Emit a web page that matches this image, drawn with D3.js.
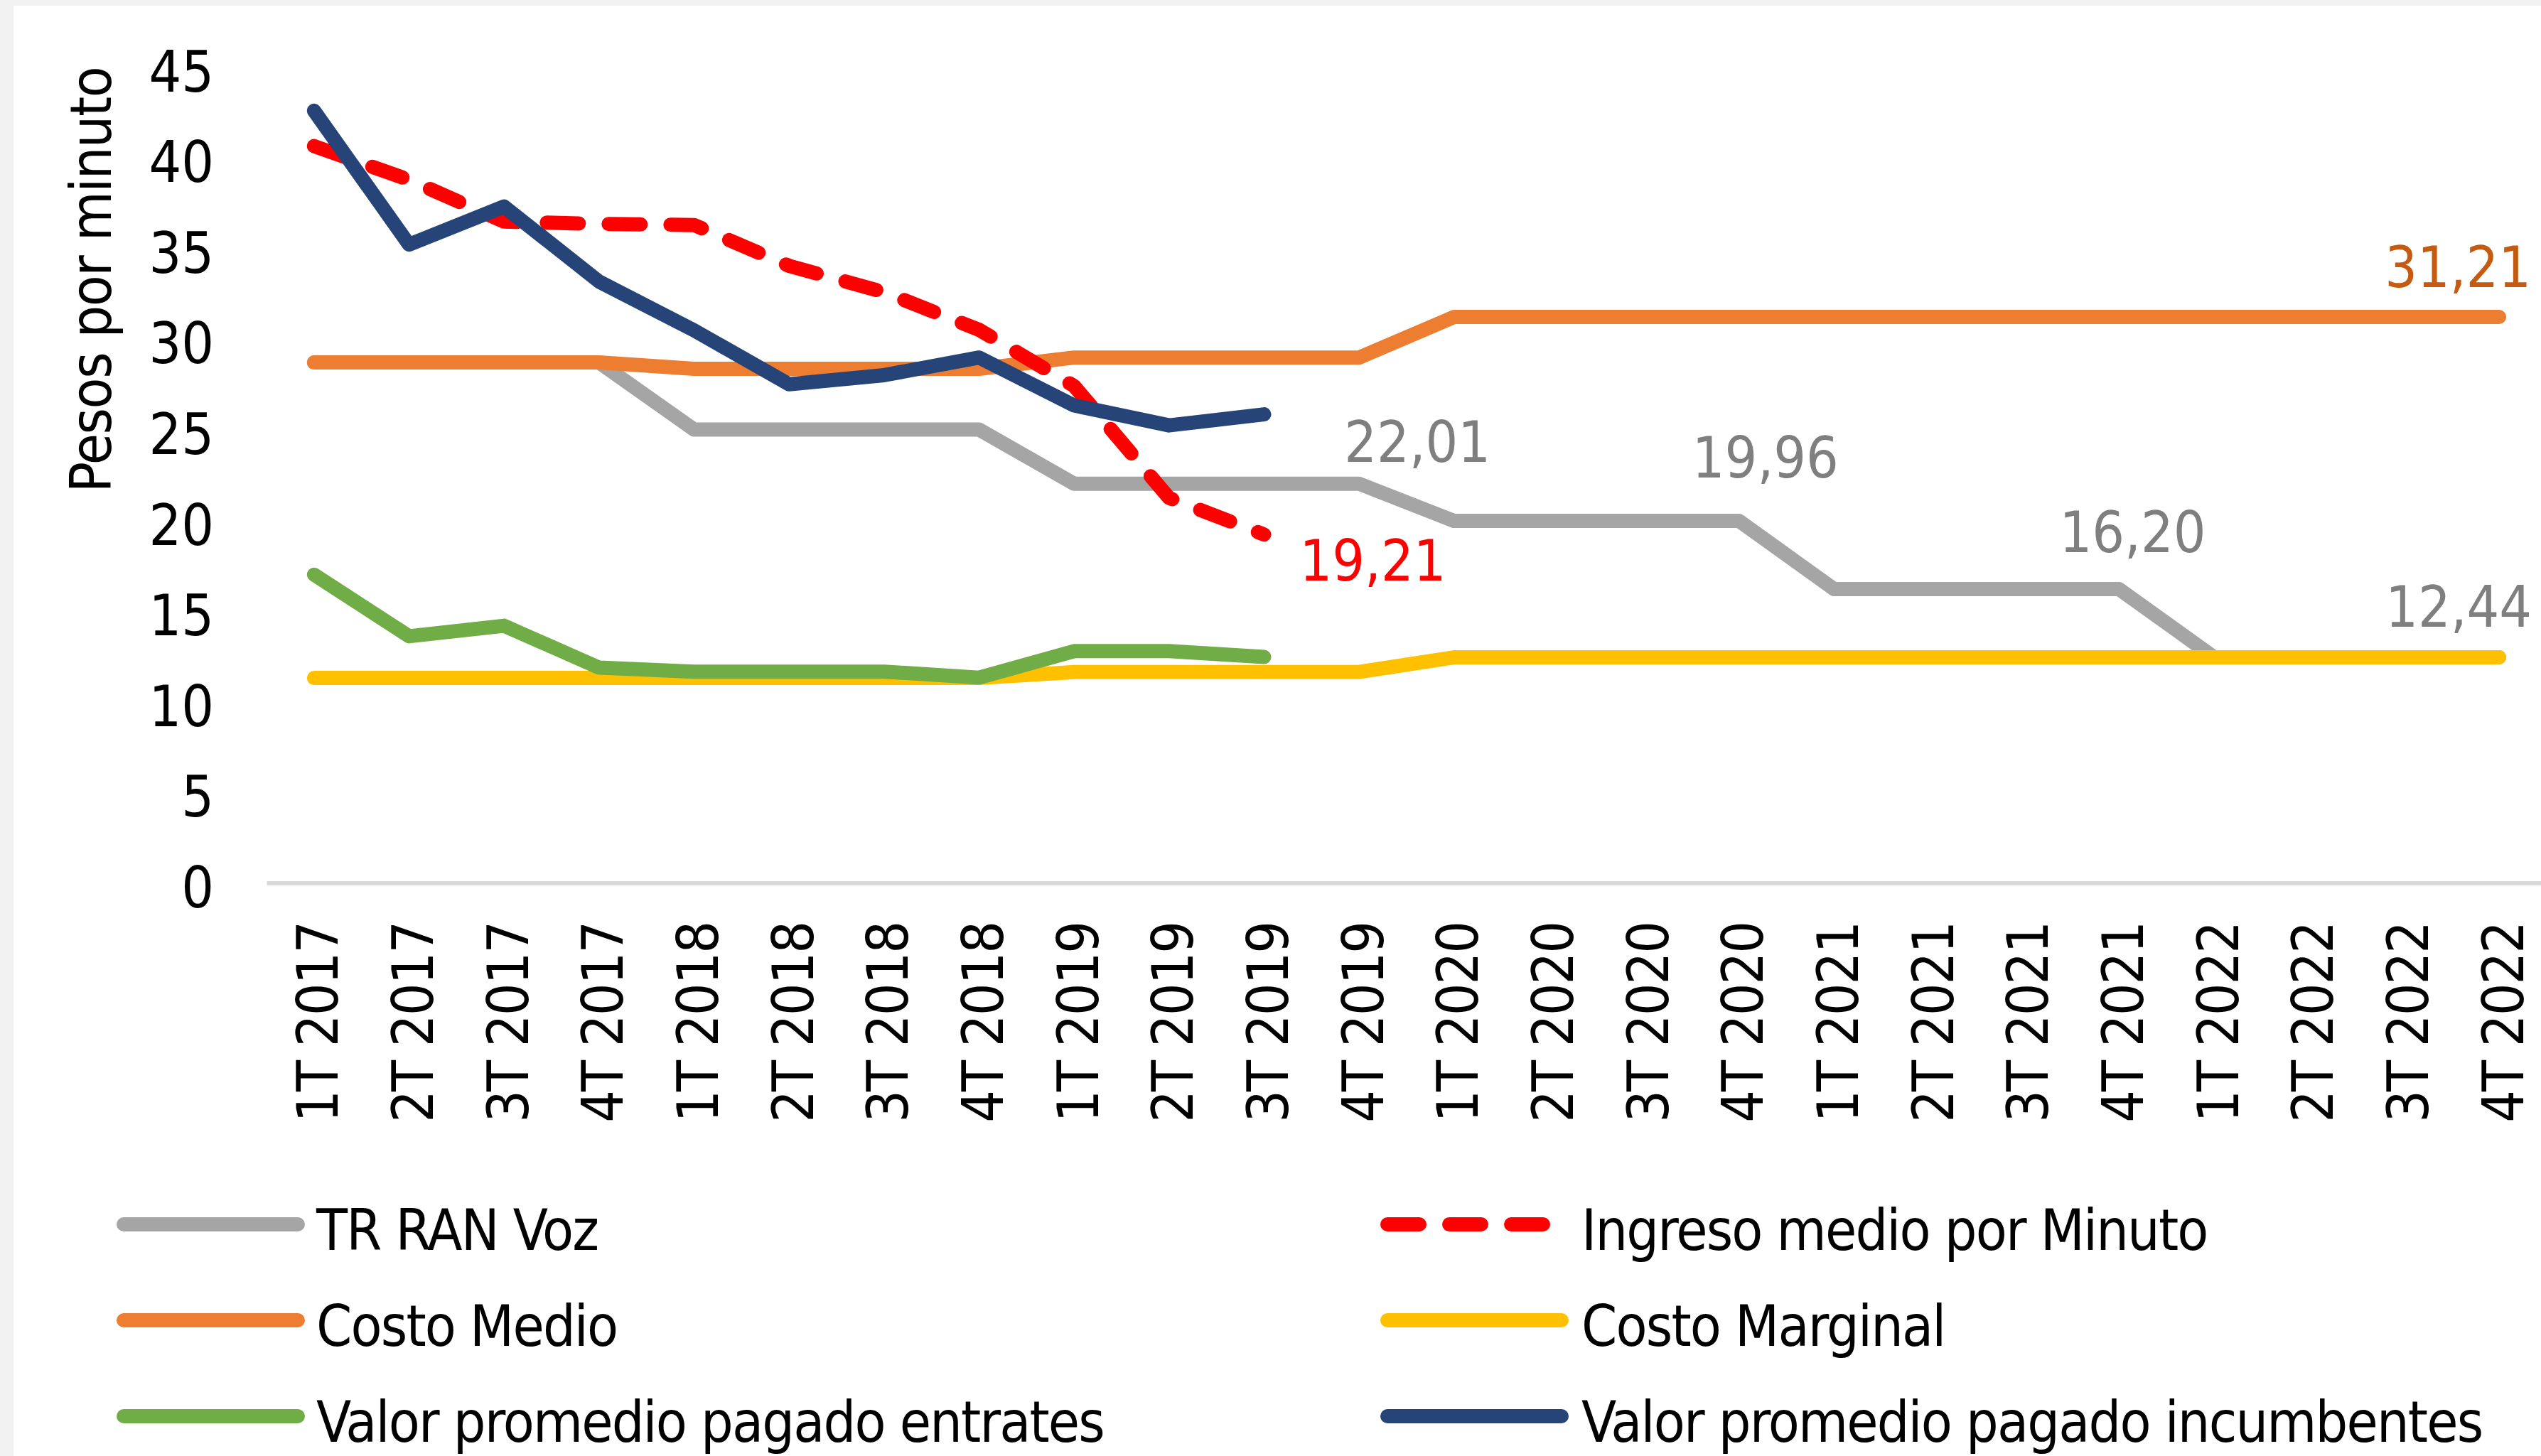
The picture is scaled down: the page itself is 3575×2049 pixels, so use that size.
<!DOCTYPE html>
<html lang="es">
<head>
<meta charset="utf-8">
<title>Pesos por minuto</title>
<script src="https://cdn.jsdelivr.net/npm/d3@7"></script>
<style>
  html, body { margin: 0; padding: 0; background: #F2F2F2; }
  svg { display: block; }
  text { font-family: "DejaVu Sans Condensed", "DejaVu Sans", sans-serif; font-stretch: condensed; }
</style>
</head>
<body>
<svg id="chart" width="3575" height="2049"></svg>
<script>
// Quarters on the x axis
const categories = [
  "1T 2017", "2T 2017", "3T 2017", "4T 2017",
  "1T 2018", "2T 2018", "3T 2018", "4T 2018",
  "1T 2019", "2T 2019", "3T 2019", "4T 2019",
  "1T 2020", "2T 2020", "3T 2020", "4T 2020",
  "1T 2021", "2T 2021", "3T 2021", "4T 2021",
  "1T 2022", "2T 2022", "3T 2022", "4T 2022"
];

const yTicks = [0, 5, 10, 15, 20, 25, 30, 35, 40, 45];

// Series values (pesos por minuto)
const trRanVoz = [
  28.7, 28.7, 28.7, 28.7,
  25.0, 25.0, 25.0, 25.0,
  22.01, 22.01, 22.01, 22.01,
  19.96, 19.96, 19.96, 19.96,
  16.20, 16.20, 16.20, 16.20,
  12.44, 12.44, 12.44, 12.44
];
const ingresoMedio = [40.63, 38.77, 36.47, 36.34, 36.28, 34.03, 32.58, 30.5, 27.4, 21.23, 19.21];
const costoMedio = [
  28.7, 28.7, 28.7, 28.7,
  28.35, 28.35, 28.35, 28.35,
  28.97, 28.97, 28.97, 28.97,
  31.21, 31.21, 31.21, 31.21,
  31.21, 31.21, 31.21, 31.21,
  31.21, 31.21, 31.21, 31.21
];
const costoMarginal = [
  11.3, 11.3, 11.3, 11.3,
  11.3, 11.3, 11.3, 11.3,
  11.63, 11.63, 11.63, 11.63,
  12.44, 12.44, 12.44, 12.44,
  12.44, 12.44, 12.44, 12.44,
  12.44, 12.44, 12.44, 12.44
];
const valorEntrates = [17.0, 13.6, 14.18, 11.87, 11.65, 11.65, 11.65, 11.32, 12.78, 12.78, 12.46];
const valorIncumbentes = [42.58, 35.2, 37.3, 33.16, 30.47, 27.5, 28.0, 28.97, 26.33, 25.23, 25.84];

// Value labels: series, category index, text
const valueLabels = [
  { series: "costoMedio", index: 23, text: "31,21" },
  { series: "trRanVoz", index: 11, text: "22,01" },
  { series: "trRanVoz", index: 15, text: "19,96" },
  { series: "trRanVoz", index: 19, text: "16,20" },
  { series: "trRanVoz", index: 23, text: "12,44" },
  { series: "ingresoMedio", index: 10, text: "19,21" }
];

const seriesDefs = [
  { key: "trRanVoz", name: "TR RAN Voz", values: trRanVoz, color: "#A5A5A5", dash: null },
  { key: "ingresoMedio", name: "Ingreso medio por Minuto", values: ingresoMedio, color: "#FF0000", dash: "45,42" },
  { key: "costoMedio", name: "Costo Medio", values: costoMedio, color: "#ED7D31", dash: null },
  { key: "costoMarginal", name: "Costo Marginal", values: costoMarginal, color: "#FFC000", dash: null },
  { key: "valorEntrates", name: "Valor promedio pagado entrates", values: valorEntrates, color: "#70AD47", dash: null },
  { key: "valorIncumbentes", name: "Valor promedio pagado incumbentes", values: valorIncumbentes, color: "#264478", dash: null }
];
const byKey = Object.fromEntries(seriesDefs.map(s => [s.key, s]));

// Drawing order (bottom to top)
const drawOrder = ["trRanVoz", "costoMedio", "costoMarginal", "valorEntrates", "ingresoMedio", "valorIncumbentes"];

const svg = d3.select("#chart");
const W = 3575, H = 2049;
const FONT = 80;
const LINE_W = 20;
const FONT_FAMILY = "\"DejaVu Sans Condensed\", \"DejaVu Sans\", sans-serif";

// Chart area panel
svg.append("rect").attr("x", 0).attr("y", 0).attr("width", W).attr("height", H).attr("fill", "#F2F2F2");
svg.append("rect").attr("x", 19).attr("y", 8).attr("width", W - 19).attr("height", H - 8).attr("fill", "#FFFFFF");

const x = d3.scalePoint().domain(categories).range([375, 3583]).padding(0.5);
const y = d3.scaleLinear().domain([0, 45]).range([1242.5, 94.1]);

// Y axis (labels only)
const yAxis = svg.append("g")
  .attr("transform", "translate(378,0)")
  .call(d3.axisLeft(y).tickValues(yTicks).tickSize(0).tickPadding(77).tickFormat(d3.format("d")));
yAxis.select(".domain").remove();
yAxis.selectAll("text")
  .attr("dy", null)
  .attr("y", 34)
  .attr("font-size", FONT)
  .attr("fill", "#000")
  .style("font-family", FONT_FAMILY);

// Y axis title
svg.append("text")
  .attr("transform", "translate(156,394) rotate(-90)")
  .attr("text-anchor", "middle")
  .attr("font-size", FONT)
  .attr("letter-spacing", -1.5)
  .attr("fill", "#000")
  .text("Pesos por minuto");

// X axis: baseline line and rotated quarter labels
const xAxis = svg.append("g")
  .attr("transform", `translate(0,${y(0)})`)
  .call(d3.axisBottom(x).tickSize(0).tickSizeOuter(0));
xAxis.select(".domain").attr("stroke", "#D9D9D9").attr("stroke-width", 6);
xAxis.selectAll(".tick text")
  .attr("transform", "rotate(-90)")
  .attr("text-anchor", "end")
  .attr("x", -(1298 - y(0)))
  .attr("y", 33)
  .attr("dy", null)
  .attr("font-size", FONT)
  .attr("letter-spacing", -2)
  .attr("fill", "#000")
  .style("font-family", FONT_FAMILY);

// Series lines
const line = d3.line()
  .x((d, i) => x(categories[i]))
  .y(d => y(d));

const linesG = svg.append("g");
drawOrder.forEach(k => {
  const s = byKey[k];
  linesG.append("path")
    .datum(s.values)
    .attr("d", line)
    .attr("fill", "none")
    .attr("stroke", s.color)
    .attr("stroke-width", LINE_W)
    .attr("stroke-linejoin", "round")
    .attr("stroke-linecap", "round")
    .attr("stroke-dasharray", s.dash);
});

// Value labels, placed relative to their points
const labelStyle = {
  "costoMedio": { fill: "#C55A11" },
  "trRanVoz": { fill: "#7F7F7F" },
  "ingresoMedio": { fill: "#FF0000" }
};
const labelOffsets = {
  "costoMedio|23": { dx: 45, dy: -42, anchor: "end" },
  "trRanVoz|11": { dx: 82, dy: -31, anchor: "middle" },
  "trRanVoz|15": { dx: 37, dy: -61, anchor: "middle" },
  "trRanVoz|19": { dx: 19, dy: -52, anchor: "middle" },
  "trRanVoz|23": { dx: 46, dy: -43, anchor: "end" },
  "ingresoMedio|10": { dx: 50, dy: 65, anchor: "start" }
};
svg.append("g").selectAll("text")
  .data(valueLabels)
  .join("text")
  .attr("x", d => x(categories[d.index]) + labelOffsets[d.series + "|" + d.index].dx)
  .attr("y", d => y(byKey[d.series].values[d.index]) + labelOffsets[d.series + "|" + d.index].dy)
  .attr("text-anchor", d => labelOffsets[d.series + "|" + d.index].anchor)
  .attr("font-size", FONT)
  .attr("fill", d => labelStyle[d.series].fill)
  .text(d => d.text);

// Legend: two columns, three rows
const legendCols = [{ x1: 174, x2: 419, tx: 445 }, { x1: 1952, x2: 2197, tx: 2225 }];
const legendRows = [1723, 1858, 1993];
const legend = svg.append("g");
seriesDefs.forEach((s, i) => {
  const col = legendCols[i % 2];
  const ry = legendRows[Math.floor(i / 2)];
  legend.append("line")
    .attr("x1", col.x1).attr("x2", col.x2)
    .attr("y1", ry).attr("y2", ry)
    .attr("stroke", s.color)
    .attr("stroke-width", LINE_W)
    .attr("stroke-linecap", "round")
    .attr("stroke-dasharray", s.dash);
  legend.append("text")
    .attr("x", col.tx)
    .attr("y", ry + 36)
    .attr("font-size", FONT)
    .attr("letter-spacing", -1.8)
    .attr("fill", "#000")
    .text(s.name);
});
</script>
</body>
</html>
